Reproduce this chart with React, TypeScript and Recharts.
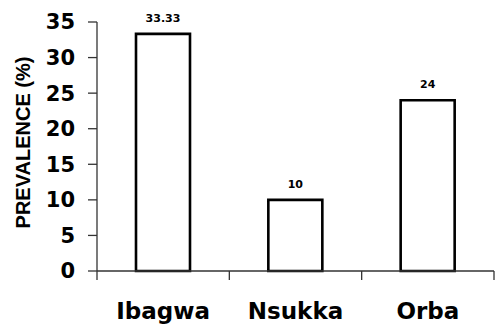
import { BarChart, Bar, XAxis, YAxis, LabelList } from 'recharts';

const sites = ['Ibagwa', 'Nsukka', 'Orba'];
const prevalence = [33.33, 10, 24];
const yTicks = [0, 5, 10, 15, 20, 25, 30, 35];

const data = sites.map((site, i) => ({ site, value: prevalence[i] }));

const FONT = '"DejaVu Sans", Arial, sans-serif';

function SiteTick(props: any) {
  const { x, y, payload, index } = props;
  const half = payload && payload.offset ? payload.offset : 66;
  return (
    <g>
      {index === 0 && (
        <line x1={x - half} y1={y} x2={x - half} y2={y + 9} stroke="#333" strokeWidth={1.3} />
      )}
      <line x1={x + half} y1={y} x2={x + half} y2={y + 9} stroke="#333" strokeWidth={1.3} />
      <text x={x} y={y + 48} textAnchor="middle" fontFamily={FONT} fontWeight="bold" fontSize={23} fill="#000">
        {payload.value}
      </text>
    </g>
  );
}

export default function App() {
  return (
    <div style={{ position: 'absolute', left: 0, top: 0, background: '#fff' }}>
      <BarChart width={499} height={328} data={data} margin={{ top: 22, right: 5, bottom: 17, left: 0 }}>
        <XAxis
          dataKey="site"
          height={40}
          tickLine={false}
          tickSize={0}
          tickMargin={0}
          axisLine={{ stroke: '#333', strokeWidth: 1.3 }}
          tick={<SiteTick />}
          interval={0}
        />
        <YAxis
          width={97}
          domain={[0, 35]}
          ticks={yTicks}
          interval={0}
          tickSize={9}
          tickMargin={13}
          axisLine={{ stroke: '#333', strokeWidth: 1.3 }}
          tickLine={{ stroke: '#333', strokeWidth: 1.3 }}
          tick={{ fill: '#000', fontSize: 21, fontWeight: 'bold', fontFamily: FONT }}
          label={{
            content: (p: any) => {
              const vb = p.viewBox || { x: 0, y: 22, width: 97, height: 249 };
              const cx = vb.x + 23;
              const cy = vb.y + vb.height / 2 - 4;
              return (
                <text
                  x={cx}
                  y={cy}
                  transform={`rotate(-90 ${cx} ${cy})`}
                  textAnchor="middle"
                  dominantBaseline="central"
                  fontFamily="Arial, 'Liberation Sans', sans-serif"
                  fontWeight="bold"
                  fontSize={20}
                  fill="#000"
                >
                  PREVALENCE (%)
                </text>
              );
            },
          }}
        />
        <Bar dataKey="value" barSize={54} fill="#fff" stroke="#000" strokeWidth={2.6} isAnimationActive={false}>
          <LabelList
            dataKey="value"
            position="top"
            offset={12}
            fill="#000"
            fontSize={11}
            fontWeight="bold"
            fontFamily={FONT}
          />
        </Bar>
      </BarChart>
    </div>
  );
}
